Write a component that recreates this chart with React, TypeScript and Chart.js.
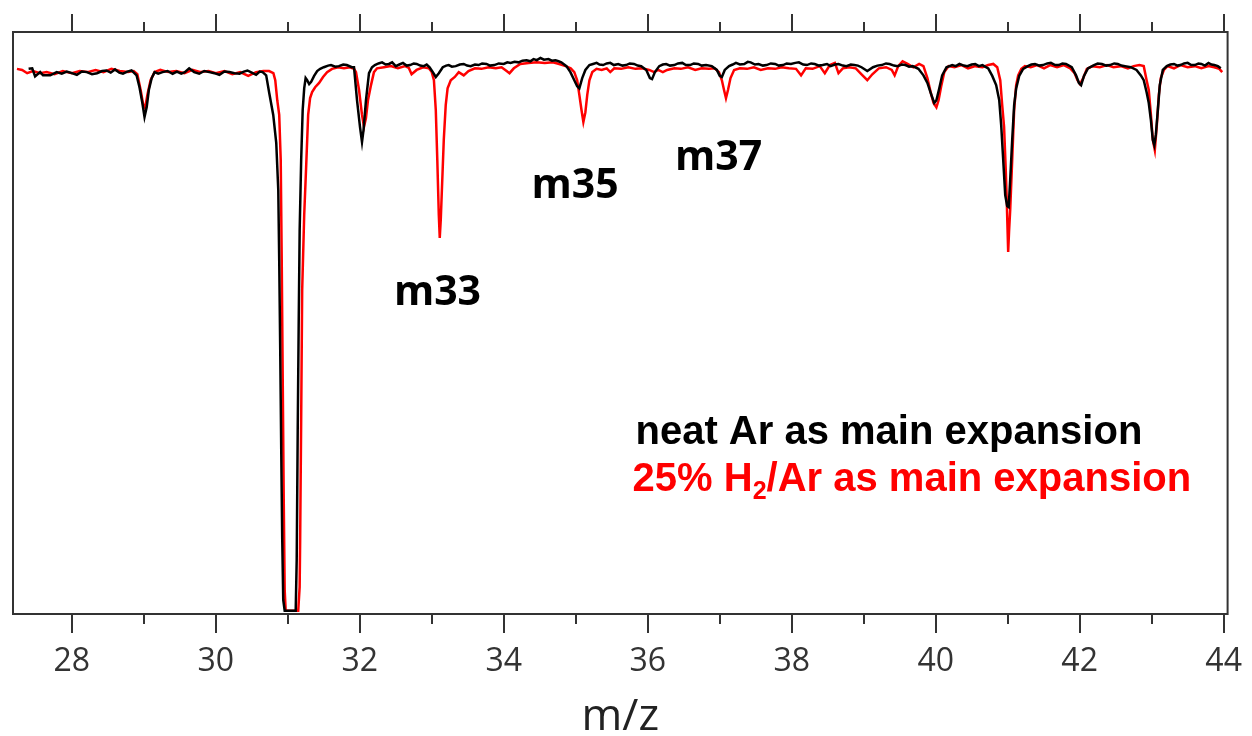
import { useEffect, useRef } from 'react';
import { Chart, registerables } from 'chart.js';

Chart.register(...registerables);

// ---------- axis / labels ----------
const X_MIN = 27.183;
const X_MAX = 44.055;
const Y_MIN = 0;
const Y_MAX = 107.4;
const MAJOR_TICKS = [28, 30, 32, 34, 36, 38, 40, 42, 44];
const MINOR_TICKS = [29, 31, 33, 35, 37, 39, 41, 43];
const TICK_LABELS = ['28', '30', '32', '34', '36', '38', '40', '42', '44'];
const X_TITLE = 'm/z';

const PEAK_LABELS = ['m33', 'm35', 'm37'];
const PEAK_LABEL_X = [32.474, 34.386, 36.38];
const PEAK_LABEL_Y = [57.0, 76.75, 81.9];

const LEGEND_NEAT = 'neat Ar as main expansion';
const LEGEND_H2_PARTS = ['25% H', '2', '/Ar as main expansion'];
const LEGEND_X = [35.83, 35.79];
const LEGEND_Y = [31.4, 22.7];

// ---------- series: [m/z, signal] ----------
const NEAT_AR: [number, number][] = [
  [27.40, 100.6], [27.45, 100.7], [27.49, 99.2], [27.56, 100.0], [27.60, 99.4], [27.70, 99.4],
  [27.79, 100.0], [27.86, 99.7], [27.93, 100.1], [28.00, 99.8], [28.07, 99.5], [28.14, 100.1],
  [28.21, 100.0], [28.28, 99.6], [28.35, 99.8], [28.42, 100.2], [28.48, 100.3], [28.54, 99.9],
  [28.60, 100.5], [28.66, 99.9], [28.71, 99.7], [28.77, 100.1], [28.83, 100.3], [28.90, 99.4],
  [28.94, 97.2], [28.98, 94.3], [29.01, 91.7], [29.04, 93.5], [29.07, 96.7], [29.11, 98.9],
  [29.15, 100.0], [29.20, 99.7], [29.26, 100.0], [29.33, 100.2], [29.40, 99.7], [29.46, 100.1],
  [29.52, 99.7], [29.57, 100.0], [29.63, 100.7], [29.70, 100.0], [29.77, 99.7], [29.84, 100.2],
  [29.91, 100.0], [29.98, 99.8], [30.05, 99.5], [30.12, 100.1], [30.19, 100.0], [30.26, 99.8],
  [30.33, 99.7], [30.39, 100.1], [30.44, 100.3], [30.50, 99.9], [30.56, 99.5], [30.61, 100.1],
  [30.65, 100.0], [30.70, 99.4], [30.743, 96.1], [30.798, 92.1], [30.840, 86.9], [30.868, 78.2],
  [30.881, 65.3], [30.895, 48.7], [30.909, 30.3], [30.923, 13.7], [30.937, 2.6], [30.957, 0.6],
  [31.000, 0.6], [31.050, 0.6], [31.110, 0.6], [31.124, 10.0], [31.138, 33.9], [31.152, 54.2],
  [31.165, 70.8], [31.186, 83.8], [31.207, 93.0], [31.228, 97.0], [31.248, 98.9], [31.269, 98.5],
  [31.297, 97.8], [31.325, 98.2], [31.366, 99.3], [31.408, 100.2], [31.45, 100.6], [31.50, 100.9],
  [31.56, 101.2], [31.60, 101.3], [31.66, 101.0], [31.71, 101.1], [31.77, 101.4], [31.82, 101.3],
  [31.89, 100.9], [31.92, 100.9], [31.962, 94.8], [32.003, 89.9], [32.031, 87.1], [32.052, 89.3],
  [32.086, 94.8], [32.128, 99.8], [32.17, 100.9], [32.21, 101.3], [32.26, 101.6], [32.31, 101.8],
  [32.36, 101.4], [32.405, 101.5], [32.45, 101.8], [32.50, 101.1], [32.55, 101.4], [32.60, 101.7],
  [32.65, 101.2], [32.70, 101.3], [32.75, 101.6], [32.79, 101.5], [32.84, 101.2], [32.89, 101.1],
  [32.93, 101.4], [32.97, 100.9], [33.015, 100.0], [33.056, 99.1], [33.098, 99.8], [33.153, 100.9],
  [33.20, 101.2], [33.236, 101.3], [33.28, 101.0], [33.333, 101.1], [33.39, 101.4], [33.444, 101.5],
  [33.49, 101.2], [33.54, 101.1], [33.60, 101.4], [33.65, 101.3], [33.70, 101.6], [33.76, 101.5],
  [33.81, 101.2], [33.87, 101.3], [33.93, 101.6], [34.00, 101.5], [34.05, 101.8], [34.095, 101.7],
  [34.15, 101.9], [34.206, 101.8], [34.26, 102.1], [34.317, 102.2], [34.37, 102.0], [34.414, 102.4],
  [34.46, 102.2], [34.51, 102.6], [34.56, 102.3], [34.62, 102.4], [34.67, 102.1], [34.718, 102.2],
  [34.76, 102.0], [34.80, 101.8], [34.87, 101.1], [34.926, 100.0], [34.98, 98.5], [35.02, 97.4],
  [35.05, 97.0], [35.09, 98.9], [35.134, 100.4], [35.19, 101.3], [35.24, 101.5], [35.29, 101.7],
  [35.33, 101.4], [35.38, 101.3], [35.43, 101.6], [35.48, 101.7], [35.53, 101.3], [35.59, 101.5],
  [35.65, 101.2], [35.70, 101.3], [35.75, 101.6], [35.81, 101.5], [35.86, 101.2], [35.91, 101.1],
  [35.98, 100.4], [36.03, 98.9], [36.06, 98.7], [36.10, 100.0], [36.16, 101.1], [36.21, 101.4],
  [36.256, 101.5], [36.31, 101.2], [36.37, 101.3], [36.42, 101.6], [36.48, 101.7], [36.53, 101.3],
  [36.59, 101.3], [36.64, 101.6], [36.70, 101.5], [36.75, 101.2], [36.81, 101.3], [36.89, 101.1],
  [36.96, 100.4], [37.00, 99.3], [37.03, 99.1], [37.07, 100.4], [37.13, 101.1], [37.18, 101.4],
  [37.225, 101.7], [37.28, 101.4], [37.34, 101.5], [37.39, 101.9], [37.43, 101.8], [37.49, 101.4],
  [37.54, 101.5], [37.60, 101.2], [37.65, 101.3], [37.71, 101.6], [37.77, 101.5], [37.82, 101.2],
  [37.88, 101.3], [37.93, 101.6], [37.99, 101.5], [38.05, 101.7], [38.10, 101.8], [38.16, 101.4],
  [38.21, 101.3], [38.27, 101.6], [38.32, 101.5], [38.38, 101.2], [38.43, 101.3], [38.49, 101.5],
  [38.54, 101.1], [38.60, 101.4], [38.65, 101.5], [38.71, 101.2], [38.76, 101.1], [38.82, 101.4],
  [38.87, 101.3], [38.92, 101.2], [38.97, 100.9], [39.05, 100.2], [39.13, 100.9], [39.19, 101.2],
  [39.25, 101.3], [39.31, 101.6], [39.36, 101.5], [39.42, 101.2], [39.47, 101.1], [39.53, 101.4],
  [39.58, 101.3], [39.63, 101.0], [39.68, 101.1], [39.76, 100.6], [39.83, 99.4], [39.885, 98.0],
  [39.94, 95.8], [39.98, 94.3], [40.01, 94.8], [40.05, 97.0], [40.09, 99.4], [40.15, 100.9],
  [40.23, 101.3], [40.28, 101.1], [40.33, 101.5], [40.39, 101.2], [40.44, 101.1], [40.50, 101.4],
  [40.55, 101.5], [40.60, 101.1], [40.65, 101.3], [40.73, 100.7], [40.786, 99.3], [40.84, 97.6],
  [40.883, 94.8], [40.91, 90.2], [40.938, 83.8], [40.966, 77.3], [40.993, 75.3], [41.014, 75.1],
  [41.035, 80.1], [41.063, 87.5], [41.09, 93.9], [41.118, 97.0], [41.16, 99.3], [41.215, 100.6],
  [41.28, 101.1], [41.33, 101.4], [41.38, 101.5], [41.44, 101.2], [41.49, 101.3], [41.55, 101.6],
  [41.60, 101.7], [41.66, 101.3], [41.71, 101.3], [41.76, 101.6], [41.81, 101.5], [41.89, 100.9],
  [41.95, 99.4], [41.99, 98.0], [42.02, 97.6], [42.06, 99.3], [42.115, 100.7], [42.20, 101.3],
  [42.25, 101.6], [42.31, 101.5], [42.37, 101.2], [42.42, 101.3], [42.48, 101.6], [42.53, 101.5],
  [42.58, 101.2], [42.63, 101.1], [42.71, 100.9], [42.79, 100.4], [42.85, 99.4], [42.89, 98.5],
  [42.93, 96.3], [42.96, 94.3], [42.99, 91.1], [43.016, 87.5], [43.037, 86.5], [43.058, 88.4],
  [43.086, 93.0], [43.113, 97.6], [43.155, 100.4], [43.21, 101.1], [43.26, 101.4], [43.31, 101.5],
  [43.36, 101.2], [43.40, 101.3], [43.45, 101.6], [43.50, 101.7], [43.55, 101.3], [43.60, 101.3],
  [43.65, 101.6], [43.69, 101.5], [43.74, 101.2], [43.79, 101.7], [43.83, 101.4], [43.87, 101.3],
  [43.92, 101.1], [43.96, 100.7],
];

const H2_AR: [number, number][] = [
  [27.238, 100.6], [27.31, 100.4], [27.38, 99.8], [27.46, 100.2], [27.56, 99.8], [27.65, 100.0],
  [27.76, 99.6], [27.875, 100.2], [28.00, 99.8], [28.11, 100.2], [28.22, 100.0], [28.33, 100.4],
  [28.44, 100.0], [28.55, 100.6], [28.665, 100.2], [28.78, 100.0], [28.86, 100.2], [28.91, 99.6],
  [28.956, 96.7], [28.99, 94.1], [29.018, 93.4], [29.05, 95.8], [29.094, 98.5], [29.15, 100.0],
  [29.23, 100.4], [29.34, 100.0], [29.45, 100.2], [29.565, 99.8], [29.676, 100.4], [29.79, 100.0],
  [29.90, 100.2], [30.00, 99.8], [30.12, 100.2], [30.23, 99.6], [30.34, 100.0], [30.45, 99.3],
  [30.56, 100.0], [30.66, 100.2], [30.74, 100.2], [30.80, 99.8], [30.826, 98.5], [30.854, 94.8],
  [30.881, 92.1], [30.902, 83.8], [30.916, 65.3], [30.93, 43.2], [30.944, 21.0], [30.957, 4.4],
  [30.971, 0.6], [31.05, 0.6], [31.10, 0.6], [31.145, 0.6], [31.165, 5.0], [31.172, 13.7],
  [31.186, 35.8], [31.20, 59.8], [31.228, 73.6], [31.255, 82.5], [31.283, 92.1], [31.31, 95.2],
  [31.338, 96.3], [31.38, 97.2], [31.435, 98.0], [31.49, 99.1], [31.546, 100.0], [31.615, 100.6],
  [31.70, 100.9], [31.78, 100.7], [31.865, 100.9], [31.92, 100.6], [31.948, 100.0], [31.99, 96.7],
  [32.031, 92.1], [32.059, 89.9], [32.086, 91.5], [32.114, 94.8], [32.156, 97.6], [32.197, 100.0],
  [32.24, 100.7], [32.336, 100.9], [32.43, 101.1], [32.53, 100.7], [32.63, 101.1], [32.68, 100.8],
  [32.72, 99.6], [32.79, 100.4], [32.88, 100.9], [32.96, 100.7], [33.00, 100.0], [33.03, 98.5],
  [33.056, 93.0], [33.077, 83.8], [33.098, 73.6], [33.111, 69.4], [33.125, 72.7], [33.146, 80.1],
  [33.167, 87.5], [33.194, 93.9], [33.22, 97.0], [33.264, 98.5], [33.32, 99.1], [33.375, 100.0],
  [33.444, 99.4], [33.51, 100.2], [33.60, 100.7], [33.69, 100.6], [33.79, 100.9], [33.89, 100.7],
  [33.97, 100.9], [34.04, 100.2], [34.08, 99.8], [34.14, 100.7], [34.23, 101.5], [34.345, 101.7],
  [34.455, 101.8], [34.57, 101.7], [34.68, 101.8], [34.77, 101.5], [34.86, 101.1], [34.93, 100.7],
  [34.98, 100.0], [35.02, 98.5], [35.05, 95.8], [35.08, 93.0], [35.106, 90.8], [35.134, 92.6],
  [35.16, 95.8], [35.19, 98.5], [35.23, 100.0], [35.29, 100.6], [35.36, 100.4], [35.43, 100.7],
  [35.48, 100.0], [35.535, 100.7], [35.63, 100.6], [35.73, 100.9], [35.83, 100.6], [35.92, 100.7],
  [36.02, 100.4], [36.09, 100.0], [36.145, 100.4], [36.21, 100.0], [36.27, 100.4], [36.37, 100.7],
  [36.46, 100.6], [36.56, 100.9], [36.66, 100.4], [36.75, 100.7], [36.85, 100.6], [36.93, 100.7],
  [36.99, 100.0], [37.03, 98.5], [37.06, 96.7], [37.087, 95.2], [37.115, 96.7], [37.15, 98.9],
  [37.20, 100.4], [37.28, 100.7], [37.38, 100.6], [37.475, 100.9], [37.57, 100.4], [37.67, 100.7],
  [37.77, 100.6], [37.86, 100.9], [37.96, 100.7], [38.06, 100.6], [38.13, 99.4], [38.195, 100.7],
  [38.29, 100.6], [38.39, 101.1], [38.46, 99.8], [38.53, 101.3], [38.60, 101.7], [38.65, 99.8],
  [38.71, 100.7], [38.80, 100.9], [38.89, 100.7], [38.97, 99.6], [39.05, 98.5], [39.12, 99.6],
  [39.21, 100.7], [39.31, 100.9], [39.39, 100.4], [39.43, 99.4], [39.48, 101.1], [39.54, 102.0],
  [39.61, 101.5], [39.69, 100.9], [39.77, 101.5], [39.83, 101.1], [39.885, 98.9], [39.93, 96.3],
  [39.97, 94.3], [40.01, 93.5], [40.04, 94.8], [40.08, 97.6], [40.12, 100.0], [40.18, 101.1],
  [40.26, 100.9], [40.36, 101.3], [40.45, 100.7], [40.55, 101.1], [40.65, 100.9], [40.73, 101.3],
  [40.80, 101.5], [40.855, 100.9], [40.897, 98.5], [40.924, 93.9], [40.95, 89.9], [40.973, 82.1],
  [40.987, 76.4], [41.007, 66.8], [41.02, 70.8], [41.035, 74.5], [41.063, 83.8], [41.09, 93.0],
  [41.118, 97.6], [41.146, 99.4], [41.19, 100.6], [41.24, 101.1], [41.32, 100.9], [41.41, 101.3],
  [41.505, 100.7], [41.59, 101.3], [41.686, 100.9], [41.78, 101.3], [41.87, 100.7], [41.93, 99.8],
  [41.97, 98.5], [42.005, 97.8], [42.05, 98.9], [42.10, 100.6], [42.18, 101.1], [42.28, 100.9],
  [42.38, 101.3], [42.47, 100.9], [42.57, 101.1], [42.67, 100.7], [42.75, 101.1], [42.83, 101.3],
  [42.89, 101.1], [42.93, 98.5], [42.96, 96.7], [42.99, 92.1], [43.016, 87.5], [43.044, 85.6],
  [43.072, 90.2], [43.10, 95.8], [43.127, 98.9], [43.17, 100.4], [43.22, 101.1], [43.31, 100.7],
  [43.40, 101.3], [43.50, 100.9], [43.60, 101.1], [43.69, 100.7], [43.79, 101.1], [43.87, 100.9],
  [43.94, 100.6], [43.98, 100.0],
];

const toPoints = (arr: [number, number][]) => arr.map(([x, y]) => ({ x, y }));

const decorPlugin = {
  id: 'decor',
  afterDatasetsDraw(chart: any) {
    const { ctx, chartArea, scales } = chart;
    const { left, right, top, bottom } = chartArea;
    const xs = scales.x;
    const ys = scales.y;
    ctx.save();
    ctx.strokeStyle = '#333';
    ctx.lineWidth = 2;
    ctx.strokeRect(left, top, right - left, bottom - top);
    ctx.beginPath();
    for (const v of MAJOR_TICKS) {
      const px = Math.round(xs.getPixelForValue(v));
      ctx.moveTo(px, bottom);
      ctx.lineTo(px, bottom + 19);
      ctx.moveTo(px, top);
      ctx.lineTo(px, top - 18);
    }
    for (const v of MINOR_TICKS) {
      const px = Math.round(xs.getPixelForValue(v));
      ctx.moveTo(px, bottom);
      ctx.lineTo(px, bottom + 10);
      ctx.moveTo(px, top);
      ctx.lineTo(px, top - 10);
    }
    ctx.stroke();

    // peak labels
    ctx.fillStyle = '#000';
    ctx.font = 'bold 41px "Open Sans"';
    ctx.textBaseline = 'alphabetic';
    ctx.textAlign = 'left';
    PEAK_LABELS.forEach((t, i) => {
      ctx.fillText(t, xs.getPixelForValue(PEAK_LABEL_X[i]), ys.getPixelForValue(PEAK_LABEL_Y[i]));
    });

    // legend text
    ctx.font = 'bold 40px "Liberation Sans"';
    ctx.fillStyle = '#000';
    ctx.fillText(LEGEND_NEAT, xs.getPixelForValue(LEGEND_X[0]), ys.getPixelForValue(LEGEND_Y[0]));
    ctx.fillStyle = '#ff0000';
    let lx = xs.getPixelForValue(LEGEND_X[1]);
    const ly = ys.getPixelForValue(LEGEND_Y[1]);
    ctx.fillText(LEGEND_H2_PARTS[0], lx, ly);
    lx += ctx.measureText(LEGEND_H2_PARTS[0]).width;
    ctx.font = 'bold 25px "Liberation Sans"';
    ctx.fillText(LEGEND_H2_PARTS[1], lx, ly + 8);
    lx += ctx.measureText(LEGEND_H2_PARTS[1]).width;
    ctx.font = 'bold 40px "Liberation Sans"';
    ctx.fillText(LEGEND_H2_PARTS[2], lx, ly);
    ctx.restore();
  },
};

export default function App() {
  const ref = useRef<HTMLCanvasElement | null>(null);
  useEffect(() => {
    if (!ref.current) return;
    const chart = new Chart(ref.current, {
      type: 'line',
      data: {
        datasets: [
          {
            label: 'neat Ar as main expansion',
            data: toPoints(NEAT_AR),
            borderColor: '#000000',
            borderWidth: 2.5,
            pointRadius: 0,
            tension: 0,
            fill: false,
          },
          {
            label: '25% H2/Ar as main expansion',
            data: toPoints(H2_AR),
            borderColor: '#ff0000',
            borderWidth: 2.5,
            pointRadius: 0,
            tension: 0,
            fill: false,
          },
        ],
      },
      options: {
        responsive: false,
        animation: false,
        parsing: true,
        layout: { padding: { left: 13, right: 21, top: 32, bottom: 0 } },
        plugins: { legend: { display: false }, tooltip: { enabled: false } },
        scales: {
          x: {
            type: 'linear',
            min: X_MIN,
            max: X_MAX,
            afterBuildTicks: (s: any) => {
              s.ticks = MAJOR_TICKS.map((v) => ({ value: v }));
            },
            afterFit: (s: any) => {
              s.height = 122;
            },
            ticks: {
              autoSkip: false,
              maxRotation: 0,
              padding: 10,
              color: '#333',
              font: { family: '"Open Sans"', size: 32 },
              callback: (v: any) => TICK_LABELS[MAJOR_TICKS.indexOf(Number(v))] ?? '',
            },
            grid: {
              display: true,
              drawOnChartArea: false,
              drawTicks: true,
              tickLength: 19,
              color: 'rgba(0,0,0,0)',
              tickColor: 'rgba(0,0,0,0)',
            },
            border: { display: false },
            title: {
              display: true,
              text: X_TITLE,
              color: '#222',
              font: { family: '"Open Sans"', size: 44, lineHeight: 0.84 },
              padding: { top: 0, bottom: 0 },
            },
          },
          y: {
            display: false,
            min: Y_MIN,
            max: Y_MAX,
          },
        },
      },
      plugins: [decorPlugin],
    });
    return () => chart.destroy();
  }, []);
  return (
    <div style={{ position: 'fixed', left: 0, top: 0, width: 1252, height: 736, background: '#fff' }}>
      <canvas ref={ref} width={1252} height={736} style={{ display: 'block', width: 1252, height: 736 }} />
    </div>
  );
}
